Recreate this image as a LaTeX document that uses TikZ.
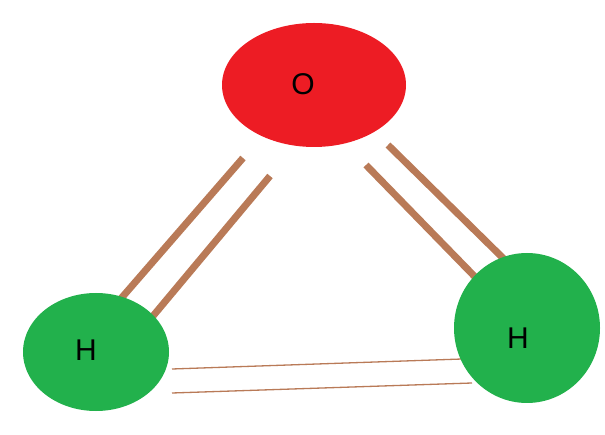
\documentclass[tikz,border=0pt]{standalone}
\usepackage{fontspec}
\setmainfont{Liberation Sans}
\usetikzlibrary{shapes.geometric}
\definecolor{ored}{RGB}{237,28,36}
\definecolor{hgreen}{RGB}{34,177,76}
\definecolor{bond}{RGB}{185,122,87}
\tikzset{atom/.style={ellipse,inner sep=0pt,font=\fontsize{30}{30}\selectfont},
bondline/.style={bond,line width=7pt},
thinbond/.style={bond,line width=1.3pt}}
\begin{document}
\begin{tikzpicture}[x=1pt,y=-1pt]
\useasboundingbox (0,0) rectangle (605,435);
\coordinate (l1a) at (243,158); \coordinate (l1b) at (118,302);
\coordinate (l2a) at (270,176); \coordinate (l2b) at (148,322);
\coordinate (r1a) at (388,145); \coordinate (r1b) at (507,262);
\coordinate (r2a) at (366,165); \coordinate (r2b) at (480,282);
\coordinate (b1a) at (172,369); \coordinate (b1b) at (462,359);
\coordinate (b2a) at (172,393); \coordinate (b2b) at (472,383);
\draw[bondline] (l1a) -- (l1b);
\draw[bondline] (l2a) -- (l2b);
\draw[bondline] (r1a) -- (r1b);
\draw[bondline] (r2a) -- (r2b);
\draw[thinbond] (b1a) -- (b1b);
\draw[thinbond] (b2a) -- (b2b);
\node[atom,fill=ored,minimum width=184pt,minimum height=124pt] (O) at (314,85) {};
\node[atom,fill=hgreen,minimum width=146pt,minimum height=118pt] (H1) at (96,352) {};
\node[atom,fill=hgreen,minimum width=146pt,minimum height=150pt] (H2) at (527,328) {};
\node[font=\fontsize{30}{30}\selectfont] at (303,84) {O};
\node[font=\fontsize{30}{30}\selectfont] at (86,350) {H};
\node[font=\fontsize{30}{30}\selectfont] at (518,338) {H};
\end{tikzpicture}
\end{document}
